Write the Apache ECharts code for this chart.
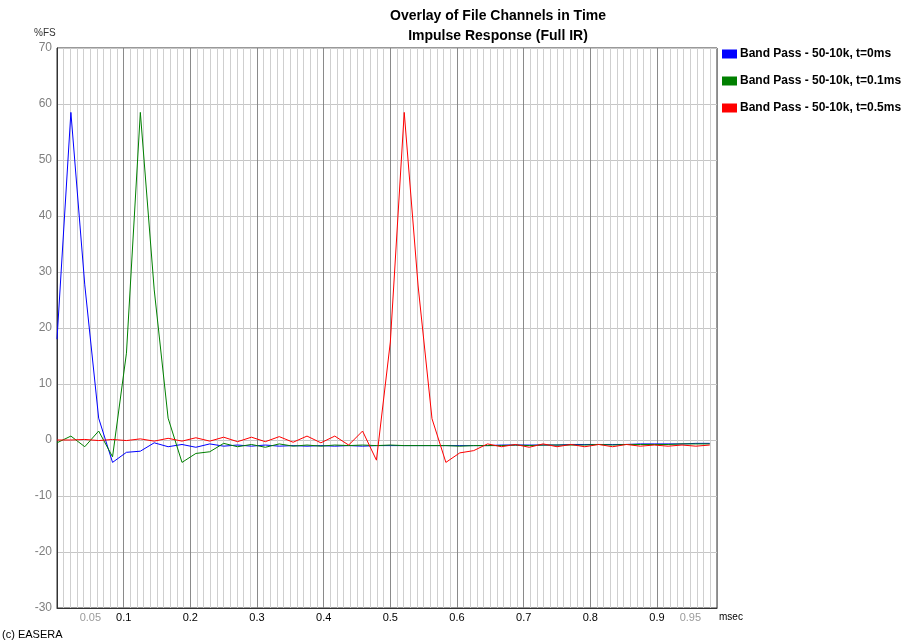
<!DOCTYPE html>
<html>
<head>
<meta charset="utf-8">
<script src="https://cdn.jsdelivr.net/npm/echarts@6/dist/echarts.min.js"></script>
<style>
  html, body { margin: 0; padding: 0; background: #ffffff; }
  #chart { width: 905px; height: 644px; }
</style>
</head>
<body>
<div id="chart"></div>
<script>
// Impulse responses of three band-pass channels, sampled at 48 kHz.
const SAMPLE_PERIOD_MS = 1 / 48;

const seriesNames = [
  'Band Pass - 50-10k, t=0ms',
  'Band Pass - 50-10k, t=0.1ms',
  'Band Pass - 50-10k, t=0.5ms'
];
const seriesColors = ['#0000ff', '#008000', '#ff0000'];

// %FS per sample
const channel0ms = [
  18.0, 58.5, 27.7, 3.9, -4.0, -2.2, -2.0, -0.5, -1.2, -0.8,
  -1.3, -0.7, -1.1, -0.9, -1.1, -0.9, -1.1, -1.0, -1.1, -1.0,
  -1.1, -1.0, -1.1, -1.0, -1.0, -1.0, -1.0, -1.0, -1.0, -1.0,
  -1.0, -1.0, -0.9, -0.9, -0.9, -0.9, -0.9, -0.8, -0.8, -0.8,
  -0.8, -0.8, -0.7, -0.7, -0.7, -0.7, -0.6, -0.6
];
const channel01ms = [
  -0.5, 0.7, -1.2, 1.6, -3.0, 15.5, 58.5, 26.8, 3.9, -4.0,
  -2.4, -2.1, -0.6, -1.2, -0.8, -1.3, -0.7, -1.1, -0.9, -1.1,
  -0.9, -1.0, -0.9, -1.0, -0.9, -1.0, -1.0, -1.0, -1.0, -1.1,
  -1.0, -1.0, -1.0, -0.9, -1.0, -0.9, -0.9, -0.9, -0.9, -0.8,
  -0.9, -0.8, -0.8, -0.8, -0.8, -0.7, -0.7, -0.7
];
const channel05ms = [
  0.0, 0.0, 0.1, -0.1, 0.1, -0.1, 0.2, -0.2, 0.3, -0.2,
  0.4, -0.2, 0.5, -0.3, 0.5, -0.3, 0.6, -0.4, 0.7, -0.5,
  0.7, -0.9, 1.6, -3.6, 17.5, 58.5, 27.5, 3.8, -4.0, -2.3,
  -1.9, -0.7, -1.2, -0.8, -1.3, -0.7, -1.2, -0.8, -1.2, -0.8,
  -1.2, -0.8, -1.1, -0.9, -1.1, -0.9, -1.1, -0.9
];
const channels = [channel0ms, channel01ms, channel05ms];

// axis ranges (msec, %FS)
const timeMin = 0, timeMax = 0.99;
const levelMin = -30, levelMax = 70, levelStep = 10;
const boldTicks = [0.1, 0.2, 0.3, 0.4, 0.5, 0.6, 0.7, 0.8, 0.9];
const faintTicks = [0.05, 0.95];

function toPairs(values) {
  return values.map((v, i) => [i * SAMPLE_PERIOD_MS, v]);
}

const chart = echarts.init(document.getElementById('chart'), null, { renderer: 'canvas' });

const FONT = '"Liberation Sans", Arial, sans-serif';

chart.setOption({
  animation: false,
  backgroundColor: '#ffffff',
  textStyle: { fontFamily: FONT },
  title: {
    text: 'Overlay of File Channels in Time\nImpulse Response (Full IR)',
    left: 493,
    top: 1,
    textAlign: 'center',
    textStyle: { fontSize: 14, fontWeight: 'bold', color: '#000', lineHeight: 20, fontFamily: FONT }
  },
  legend: {
    orient: 'vertical',
    left: 722,
    top: 48,
    padding: 0,
    itemWidth: 15,
    itemHeight: 9,
    itemGap: 15,
    icon: 'rect',
    data: seriesNames,
    textStyle: { fontSize: 12, fontWeight: 'bold', color: '#000', lineHeight: 12, padding: [0, 0, 0, -2], fontFamily: FONT }
  },
  grid: {
    left: 57, right: 188, top: 48, bottom: 36,
    show: true,
    borderColor: '#333333',
    borderWidth: 1,
    backgroundColor: '#ffffff'
  },
  xAxis: [
    {
      // labelled time axis
      type: 'value',
      min: timeMin, max: timeMax,
      interval: 0.05,
      position: 'bottom',
      axisLine: { show: true, onZero: false, lineStyle: { color: '#333333', width: 1 } },
      axisTick: { show: false },
      splitLine: { show: false },
      axisLabel: {
        margin: 4,
        fontSize: 11,
        color: '#000',
        formatter: function (v) {
          const k = Math.round(v * 100);
          if (boldTicks.some(t => Math.round(t * 100) === k)) return (k / 100).toFixed(1);
          if (faintTicks.some(t => Math.round(t * 100) === k)) return '{g|' + (k / 100).toFixed(2) + '}';
          return '';
        },
        rich: { g: { color: '#9a9a9a', fontSize: 11, fontFamily: FONT } }
      }
    },
    {
      // time grid: 0.1 ms major, 0.01 ms minor
      type: 'value',
      min: timeMin, max: timeMax,
      interval: 0.1,
      position: 'bottom',
      axisLine: { show: false, onZero: false },
      axisTick: { show: false },
      axisLabel: { show: false },
      splitLine: { show: true, lineStyle: { color: '#8a8a8a', width: 1 } },
      minorTick: { show: false, splitNumber: 10 },
      minorSplitLine: { show: true, lineStyle: { color: '#cfcfcf', width: 1 } }
    }
  ],
  yAxis: {
    type: 'value',
    min: levelMin, max: levelMax, interval: levelStep,
    axisLine: { show: true, onZero: false, lineStyle: { color: '#333333', width: 1 } },
    axisTick: { show: false },
    splitLine: { show: true, lineStyle: { color: '#c6c6c6', width: 1 } },
    axisLabel: { margin: 5, fontSize: 12, color: '#7f7f7f' }
  },
  graphic: [
    { type: 'text', left: 34, top: 28, style: { text: '%FS', fontSize: 10, fill: '#333', fontFamily: FONT } },
    { type: 'text', left: 719, top: 612, style: { text: 'msec', fontSize: 10, fill: '#000', fontFamily: FONT } },
    { type: 'text', left: 2, top: 629, style: { text: '(c) EASERA', fontSize: 11, fill: '#000', fontFamily: FONT } }
  ],
  series: channels.map((vals, i) => ({
    name: seriesNames[i],
    type: 'line',
    xAxisIndex: 0,
    data: toPairs(vals),
    showSymbol: false,
    symbol: 'none',
    lineStyle: { color: seriesColors[i], width: 1 },
    itemStyle: { color: seriesColors[i] },
    z: 3 + i
  }))
});
</script>
</body>
</html>
